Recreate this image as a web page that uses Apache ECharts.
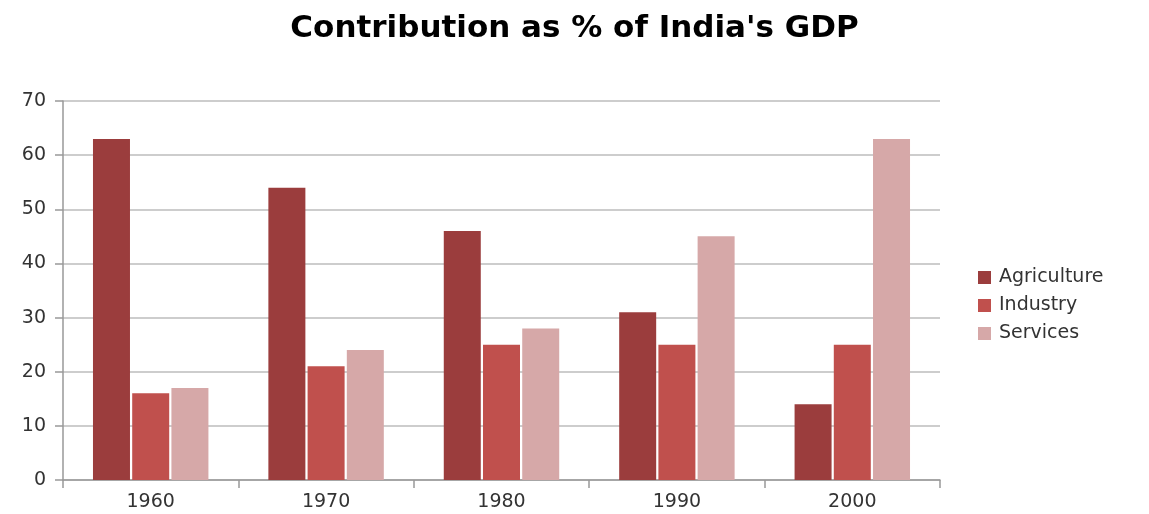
<!DOCTYPE html>
<html>
<head>
<meta charset="utf-8">
<script src="https://cdn.jsdelivr.net/npm/echarts@6/dist/echarts.min.js"></script>
<style>
    html, body { margin: 0; padding: 0; background: #fff; }
    #chart { width: 1149px; height: 514px; }
</style>
</head>
<body>
<div id="chart"></div>
<script>
    // data
    var years = ['1960', '1970', '1980', '1990', '2000'];
    var agriculture = [63, 54, 46, 31, 14];
    var industry = [16, 21, 25, 25, 25];
    var services = [17, 24, 28, 45, 63];
    var seriesNames = ['Agriculture', 'Industry', 'Services'];
    var seriesColors = ['#9b3d3d', '#c0504d', '#d6a8a8'];

    var chart = echarts.init(document.getElementById('chart'));

    function bar(name, data, color) {
        return {
            name: name,
            type: 'bar',
            data: data,
            barWidth: 37,
            barGap: '6%',
            itemStyle: {color: color}
        };
    }

    chart.setOption({
        animation: false,
        title: {
            text: "Contribution as % of India's GDP",
            left: 'center',
            top: 8,
            textStyle: {
                fontFamily: 'DejaVu Sans',
                fontWeight: 'bold',
                fontSize: 31,
                color: '#000'
            }
        },
        legend: {
            orient: 'vertical',
            left: 973,
            top: 263,
            itemWidth: 13,
            itemHeight: 13,
            itemGap: 9,
            icon: 'rect',
            data: seriesNames,
            textStyle: {fontFamily: 'DejaVu Sans', fontSize: 19, color: '#333', padding: [0, 0, 0, 3]}
        },
        grid: {left: 63, right: 209, top: 101, bottom: 34},
        xAxis: {
            type: 'category',
            data: years,
            axisLine: {lineStyle: {color: '#999', width: 1.5}},
            axisTick: {show: true, length: 8, lineStyle: {color: '#999', width: 1.5}},
            axisLabel: {fontFamily: 'DejaVu Sans', fontSize: 19, color: '#333', margin: 13}
        },
        yAxis: {
            type: 'value',
            min: 0,
            max: 70,
            interval: 10,
            axisLine: {show: true, lineStyle: {color: '#999', width: 1.5}},
            axisTick: {show: true, inside: false, length: 8, lineStyle: {color: '#999', width: 1.5}},
            axisLabel: {fontFamily: 'DejaVu Sans', fontSize: 19, color: '#333', margin: 17},
            splitLine: {lineStyle: {color: '#bdbdbd', width: 1.5}}
        },
        series: [
            bar(seriesNames[0], agriculture, seriesColors[0]),
            bar(seriesNames[1], industry, seriesColors[1]),
            bar(seriesNames[2], services, seriesColors[2])
        ]
    });
</script>
</body>
</html>
